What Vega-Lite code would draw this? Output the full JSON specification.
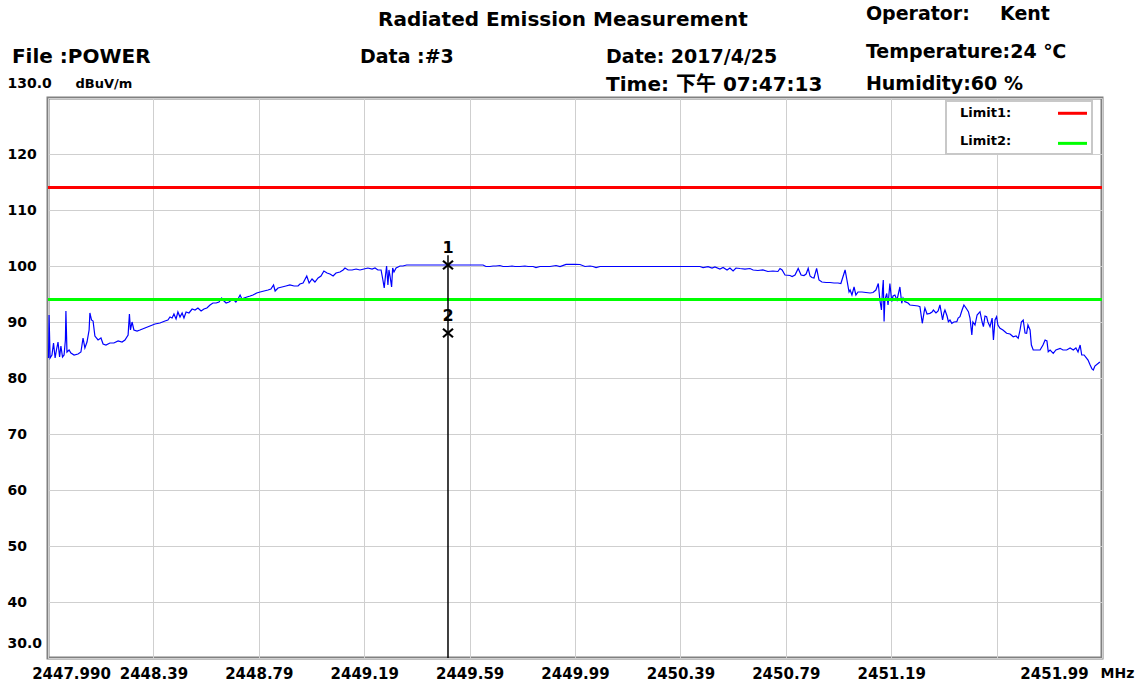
{
"$schema": "https://vega.github.io/schema/vega-lite/v6.json",
"width": 1054, "height": 560,
"autosize": {"type": "none"},
"padding": {"left": 48, "top": 98, "right": 40, "bottom": 28},
"background": "white",
"config": {
  "view": {"stroke": "#808080", "strokeWidth": 3},
  "axis": {"labelFont": "DejaVu Sans", "labelFontWeight": "bold", "labelColor": "#000", "domain": false, "ticks": false, "tickSize": 0, "gridColor": "#cfcfcf", "gridWidth": 1, "titleColor": "#000"},
  "text": {"font": "DejaVu Sans", "fontWeight": "bold", "color": "#000"}
},
"datasets": {
  "trace": [
{"freq":2447.992,"level":83.57},{"freq":2447.994,"level":91.25},{"freq":2447.998,"level":83.57},{"freq":2448.005,"level":84.11},{"freq":2448.011,"level":86.25},{"freq":2448.017,"level":83.57},{"freq":2448.022,"level":85.0},{"freq":2448.028,"level":86.43},{"freq":2448.034,"level":83.75},{"freq":2448.039,"level":85.71},{"freq":2448.045,"level":83.75},{"freq":2448.051,"level":84.11},{"freq":2448.056,"level":86.79},{"freq":2448.058,"level":91.96},{"freq":2448.062,"level":84.64},{"freq":2448.070,"level":85.0},{"freq":2448.077,"level":84.46},{"freq":2448.089,"level":84.11},{"freq":2448.104,"level":84.29},{"freq":2448.115,"level":84.64},{"freq":2448.123,"level":87.14},{"freq":2448.130,"level":85.36},{"freq":2448.138,"level":86.43},{"freq":2448.146,"level":88.57},{"freq":2448.149,"level":91.61},{"freq":2448.155,"level":90.36},{"freq":2448.161,"level":90.18},{"freq":2448.168,"level":87.5},{"freq":2448.180,"level":86.79},{"freq":2448.191,"level":87.14},{"freq":2448.199,"level":86.07},{"freq":2448.210,"level":85.89},{"freq":2448.225,"level":86.25},{"freq":2448.240,"level":86.25},{"freq":2448.256,"level":86.61},{"freq":2448.271,"level":86.43},{"freq":2448.282,"level":86.79},{"freq":2448.294,"level":87.68},{"freq":2448.299,"level":91.43},{"freq":2448.303,"level":88.57},{"freq":2448.309,"level":90.0},{"freq":2448.316,"level":88.57},{"freq":2448.328,"level":88.39},{"freq":2448.339,"level":88.57},{"freq":2448.358,"level":88.93},{"freq":2448.377,"level":89.29},{"freq":2448.396,"level":89.64},{"freq":2448.415,"level":89.82},{"freq":2448.434,"level":90.18},{"freq":2448.445,"level":90.36},{"freq":2448.453,"level":90.89},{"freq":2448.461,"level":90.71},{"freq":2448.468,"level":91.43},{"freq":2448.476,"level":90.54},{"freq":2448.483,"level":91.79},{"freq":2448.491,"level":90.89},{"freq":2448.499,"level":91.61},{"freq":2448.506,"level":90.71},{"freq":2448.514,"level":91.79},{"freq":2448.525,"level":91.61},{"freq":2448.537,"level":92.32},{"freq":2448.548,"level":92.14},{"freq":2448.559,"level":92.5},{"freq":2448.571,"level":91.96},{"freq":2448.582,"level":92.32},{"freq":2448.593,"level":92.5},{"freq":2448.605,"level":93.04},{"freq":2448.616,"level":93.39},{"freq":2448.628,"level":93.39},{"freq":2448.639,"level":93.57},{"freq":2448.649,"level":94.29},{"freq":2448.658,"level":93.75},{"freq":2448.666,"level":93.39},{"freq":2448.677,"level":93.57},{"freq":2448.692,"level":94.11},{"freq":2448.703,"level":93.57},{"freq":2448.711,"level":94.11},{"freq":2448.719,"level":94.82},{"freq":2448.726,"level":94.11},{"freq":2448.734,"level":94.29},{"freq":2448.745,"level":94.46},{"freq":2448.757,"level":94.64},{"freq":2448.768,"level":94.82},{"freq":2448.782,"level":95.18},{"freq":2448.795,"level":95.36},{"freq":2448.810,"level":95.54},{"freq":2448.825,"level":95.71},{"freq":2448.836,"level":95.89},{"freq":2448.846,"level":96.61},{"freq":2448.852,"level":95.54},{"freq":2448.863,"level":96.07},{"freq":2448.878,"level":96.25},{"freq":2448.893,"level":96.43},{"freq":2448.908,"level":96.61},{"freq":2448.924,"level":96.43},{"freq":2448.939,"level":96.43},{"freq":2448.946,"level":96.79},{"freq":2448.958,"level":96.96},{"freq":2448.972,"level":98.21},{"freq":2448.981,"level":96.96},{"freq":2448.992,"level":97.68},{"freq":2449.003,"level":97.14},{"freq":2449.015,"level":97.86},{"freq":2449.026,"level":98.21},{"freq":2449.037,"level":99.11},{"freq":2449.049,"level":98.75},{"freq":2449.060,"level":98.57},{"freq":2449.072,"level":98.21},{"freq":2449.083,"level":98.75},{"freq":2449.098,"level":98.93},{"freq":2449.110,"level":99.29},{"freq":2449.117,"level":99.64},{"freq":2449.129,"level":99.29},{"freq":2449.144,"level":99.29},{"freq":2449.159,"level":99.46},{"freq":2449.174,"level":99.29},{"freq":2449.189,"level":99.46},{"freq":2449.204,"level":99.64},{"freq":2449.220,"level":99.46},{"freq":2449.231,"level":99.64},{"freq":2449.242,"level":99.29},{"freq":2449.254,"level":99.29},{"freq":2449.261,"level":97.5},{"freq":2449.266,"level":96.07},{"freq":2449.271,"level":98.39},{"freq":2449.275,"level":100.0},{"freq":2449.280,"level":96.61},{"freq":2449.284,"level":99.29},{"freq":2449.288,"level":98.21},{"freq":2449.294,"level":96.25},{"freq":2449.298,"level":99.64},{"freq":2449.303,"level":98.93},{"freq":2449.311,"level":99.64},{"freq":2449.326,"level":100.0},{"freq":2449.337,"level":100.0},{"freq":2449.351,"level":100.18},{"freq":2449.383,"level":100.18},{"freq":2449.421,"level":100.18},{"freq":2449.459,"level":100.18},{"freq":2449.497,"level":100.18},{"freq":2449.508,"level":100.18},{"freq":2449.516,"level":100.18},{"freq":2449.554,"level":100.18},{"freq":2449.592,"level":100.18},{"freq":2449.641,"level":100.18},{"freq":2449.652,"level":99.91},{"freq":2449.667,"level":99.91},{"freq":2449.679,"level":100.0},{"freq":2449.690,"level":100.0},{"freq":2449.705,"level":100.09},{"freq":2449.717,"level":99.91},{"freq":2449.736,"level":99.91},{"freq":2449.751,"level":100.0},{"freq":2449.762,"level":99.91},{"freq":2449.781,"level":99.91},{"freq":2449.800,"level":100.0},{"freq":2449.812,"level":99.91},{"freq":2449.831,"level":99.91},{"freq":2449.842,"level":99.73},{"freq":2449.857,"level":99.91},{"freq":2449.895,"level":99.91},{"freq":2449.918,"level":100.09},{"freq":2449.933,"level":99.91},{"freq":2449.956,"level":100.30},{"freq":2449.990,"level":100.30},{"freq":2450.009,"level":100.27},{"freq":2450.028,"level":99.91},{"freq":2450.047,"level":100.0},{"freq":2450.058,"level":99.91},{"freq":2450.070,"level":99.73},{"freq":2450.085,"level":99.91},{"freq":2450.161,"level":99.91},{"freq":2450.237,"level":99.91},{"freq":2450.313,"level":99.91},{"freq":2450.389,"level":99.91},{"freq":2450.464,"level":99.91},{"freq":2450.476,"level":99.73},{"freq":2450.495,"level":99.88},{"freq":2450.510,"level":99.64},{"freq":2450.521,"level":99.82},{"freq":2450.540,"level":99.46},{"freq":2450.552,"level":99.73},{"freq":2450.567,"level":99.29},{"freq":2450.578,"level":99.64},{"freq":2450.590,"level":99.11},{"freq":2450.601,"level":99.64},{"freq":2450.616,"level":99.55},{"freq":2450.635,"level":99.46},{"freq":2450.654,"level":99.55},{"freq":2450.666,"level":99.29},{"freq":2450.684,"level":99.20},{"freq":2450.703,"level":99.29},{"freq":2450.722,"level":99.02},{"freq":2450.741,"level":99.11},{"freq":2450.760,"level":99.02},{"freq":2450.768,"level":99.55},{"freq":2450.776,"level":99.29},{"freq":2450.787,"level":98.39},{"freq":2450.806,"level":98.30},{"freq":2450.814,"level":98.13},{"freq":2450.825,"level":98.39},{"freq":2450.837,"level":99.55},{"freq":2450.848,"level":98.39},{"freq":2450.859,"level":98.30},{"freq":2450.867,"level":98.57},{"freq":2450.875,"level":99.59},{"freq":2450.882,"level":98.21},{"freq":2450.889,"level":97.95},{"freq":2450.897,"level":97.86},{"freq":2450.907,"level":99.59},{"freq":2450.916,"level":97.5},{"freq":2450.927,"level":97.14},{"freq":2450.943,"level":97.05},{"freq":2450.958,"level":97.05},{"freq":2450.973,"level":96.96},{"freq":2450.988,"level":96.96},{"freq":2450.999,"level":96.87},{"freq":2451.015,"level":99.29},{"freq":2451.022,"level":97.5},{"freq":2451.030,"level":95.36},{"freq":2451.034,"level":95.71},{"freq":2451.041,"level":94.82},{"freq":2451.049,"level":96.25},{"freq":2451.056,"level":94.82},{"freq":2451.064,"level":95.36},{"freq":2451.079,"level":95.36},{"freq":2451.094,"level":95.27},{"freq":2451.110,"level":95.18},{"freq":2451.121,"level":95.27},{"freq":2451.132,"level":95.71},{"freq":2451.141,"level":96.87},{"freq":2451.147,"level":93.93},{"freq":2451.153,"level":92.14},{"freq":2451.157,"level":95.71},{"freq":2451.160,"level":97.5},{"freq":2451.163,"level":90.09},{"freq":2451.166,"level":93.93},{"freq":2451.173,"level":95.09},{"freq":2451.178,"level":93.04},{"freq":2451.185,"level":96.87},{"freq":2451.192,"level":93.66},{"freq":2451.197,"level":94.64},{"freq":2451.204,"level":94.82},{"freq":2451.212,"level":93.93},{"freq":2451.223,"level":96.25},{"freq":2451.230,"level":93.34},{"freq":2451.235,"level":94.29},{"freq":2451.242,"level":93.63},{"freq":2451.254,"level":93.39},{"freq":2451.261,"level":93.04},{"freq":2451.277,"level":92.95},{"freq":2451.292,"level":92.86},{"freq":2451.299,"level":92.73},{"freq":2451.308,"level":89.77},{"freq":2451.315,"level":91.79},{"freq":2451.318,"level":92.5},{"freq":2451.326,"level":91.43},{"freq":2451.337,"level":91.55},{"freq":2451.345,"level":91.79},{"freq":2451.350,"level":92.14},{"freq":2451.360,"level":91.61},{"freq":2451.368,"level":91.96},{"freq":2451.375,"level":93.04},{"freq":2451.385,"level":90.36},{"freq":2451.390,"level":91.61},{"freq":2451.394,"level":92.14},{"freq":2451.402,"level":91.07},{"freq":2451.407,"level":90.05},{"freq":2451.413,"level":90.36},{"freq":2451.420,"level":89.77},{"freq":2451.428,"level":90.0},{"freq":2451.439,"level":90.05},{"freq":2451.444,"level":90.71},{"freq":2451.451,"level":90.95},{"freq":2451.459,"level":92.14},{"freq":2451.466,"level":93.04},{"freq":2451.474,"level":92.5},{"freq":2451.483,"level":91.84},{"freq":2451.489,"level":90.71},{"freq":2451.496,"level":87.68},{"freq":2451.500,"level":90.0},{"freq":2451.508,"level":89.46},{"freq":2451.516,"level":91.25},{"freq":2451.527,"level":91.84},{"freq":2451.535,"level":90.0},{"freq":2451.540,"level":89.16},{"freq":2451.546,"level":91.07},{"freq":2451.552,"level":90.95},{"freq":2451.557,"level":90.0},{"freq":2451.565,"level":89.16},{"freq":2451.573,"level":90.71},{"freq":2451.578,"level":86.79},{"freq":2451.584,"level":90.36},{"freq":2451.590,"level":90.95},{"freq":2451.595,"level":89.46},{"freq":2451.603,"level":88.87},{"freq":2451.614,"level":88.57},{"freq":2451.628,"level":87.98},{"freq":2451.641,"level":87.86},{"freq":2451.653,"level":87.37},{"freq":2451.664,"level":87.5},{"freq":2451.672,"level":87.09},{"freq":2451.679,"level":88.57},{"freq":2451.684,"level":90.0},{"freq":2451.691,"level":90.36},{"freq":2451.698,"level":88.04},{"freq":2451.704,"level":87.98},{"freq":2451.709,"level":89.46},{"freq":2451.717,"level":88.57},{"freq":2451.722,"level":85.89},{"freq":2451.729,"level":85.0},{"freq":2451.740,"level":85.0},{"freq":2451.755,"level":85.0},{"freq":2451.766,"level":85.89},{"freq":2451.774,"level":86.79},{"freq":2451.781,"level":86.61},{"freq":2451.786,"level":84.70},{"freq":2451.793,"level":85.0},{"freq":2451.805,"level":84.41},{"freq":2451.815,"level":85.0},{"freq":2451.831,"level":85.30},{"freq":2451.842,"level":85.0},{"freq":2451.856,"level":85.0},{"freq":2451.869,"level":85.36},{"freq":2451.881,"level":85.0},{"freq":2451.891,"level":85.36},{"freq":2451.899,"level":84.64},{"freq":2451.907,"level":85.89},{"freq":2451.913,"level":84.11},{"freq":2451.922,"level":84.11},{"freq":2451.932,"level":83.52},{"freq":2451.937,"level":83.21},{"freq":2451.945,"level":82.32},{"freq":2451.952,"level":81.61},{"freq":2451.957,"level":81.43},{"freq":2451.963,"level":82.14},{"freq":2451.976,"level":82.62},{"freq":2451.982,"level":82.86}
  ],
  "markers": [{"marker": "1", "freq": 2449.508, "level": 100.18}, {"marker": "2", "freq": 2449.508, "level": 88.04}],
  "limits": [{"limit": "Limit1", "level": 114}, {"limit": "Limit2", "level": 94}]
},
"layer": [
  {
    "data": {"name": "trace"},
    "mark": {"type": "line", "color": "#0000ff", "strokeWidth": 1.2, "interpolate": "linear"},
    "encoding": {
      "x": {"field": "freq", "type": "quantitative", "scale": {"domain": [2447.99, 2451.99], "nice": false, "zero": false},
        "axis": {"values": [2447.99, 2448.39, 2448.79, 2449.19, 2449.59, 2449.99, 2450.39, 2450.79, 2451.19, 2451.59, 2451.99],
          "labelExpr": "datum.value < 2448 ? '2447.990' : (abs(datum.value - 2451.59) < 0.001 ? '' : format(datum.value, '.2f'))",
          "labelFlush": false, "labelOverlap": false, "labelPadding": 8, "labelFontSize": 15, "labelBaseline": "top",
          "labelOffset": {"condition": [{"test": "datum.value < 2448", "value": 23}, {"test": "datum.value > 2451.9", "value": -48}], "value": 0},
          "title": "MHz", "titleX": 1052, "titleY": 15, "titleAlign": "left", "titleBaseline": "middle", "titleFontSize": 14, "titleFont": "DejaVu Sans", "titleFontWeight": "bold",
          "grid": true}},
      "y": {"field": "level", "type": "quantitative", "scale": {"domain": [30, 130], "nice": false, "zero": false},
        "axis": {"values": [30, 40, 50, 60, 70, 80, 90, 100, 110, 120, 130],
          "labelExpr": "datum.value == 30 ? '30.0' : (datum.value == 130 ? '130.0' : format(datum.value, 'd'))",
          "labelAlign": "left", "labelBaseline": "middle", "labelPadding": 41, "labelFontSize": 14, "labelOverlap": false,
          "labelOffset": {"condition": {"test": "datum.value == 30 || datum.value == 130", "value": -15}, "value": 0},
          "title": "dBuV/m", "titleAngle": 0, "titleX": 27, "titleY": -15, "titleAlign": "left", "titleBaseline": "middle", "titleFontSize": 13, "titleFont": "DejaVu Sans", "titleFontWeight": "bold",
          "grid": true}}
    }
  },
  {
    "data": {"name": "limits"},
    "mark": {"type": "rule", "strokeWidth": 3},
    "encoding": {
      "y": {"field": "level", "type": "quantitative"},
      "color": {"field": "limit", "type": "nominal", "scale": {"domain": ["Limit1", "Limit2"], "range": ["#ff0000", "#00ff00"]}, "legend": null}
    }
  },
  {
    "data": {"values": [{}]},
    "mark": {"type": "rule", "color": "#000000", "strokeWidth": 1.5},
    "encoding": {"x": {"datum": 2449.508, "type": "quantitative"}, "y": {"datum": 101.9, "type": "quantitative"}, "y2": {"datum": 30}}
  },
  {
    "data": {"name": "markers"},
    "mark": {"type": "point", "shape": "M-1,-0.85L1,0.85M-1,0.85L1,-0.85", "size": 100, "filled": false, "color": "#000000", "strokeWidth": 2.2, "opacity": 1},
    "encoding": {"x": {"field": "freq", "type": "quantitative"}, "y": {"field": "level", "type": "quantitative"}}
  },
  {
    "data": {"name": "markers"},
    "mark": {"type": "text", "fontSize": 16, "dy": -17, "align": "center", "baseline": "middle"},
    "encoding": {"x": {"field": "freq", "type": "quantitative"}, "y": {"field": "level", "type": "quantitative"}, "text": {"field": "marker"}}
  },
  {
    "data": {"values": [{}]},
    "mark": {"type": "rect", "fill": "#ffffff", "stroke": "#c8c8c8", "strokeWidth": 2},
    "encoding": {"x": {"datum": 2451.398, "type": "quantitative"}, "x2": {"datum": 2451.952}, "y": {"datum": 129.46, "type": "quantitative"}, "y2": {"datum": 120.0}}
  },
  {
    "data": {"values": [{}]},
    "mark": {"type": "text", "text": "Limit1:", "fontSize": 13, "align": "left", "baseline": "middle"},
    "encoding": {"x": {"datum": 2451.451, "type": "quantitative"}, "y": {"datum": 127.4, "type": "quantitative"}}
  },
  {
    "data": {"values": [{}]},
    "mark": {"type": "text", "text": "Limit2:", "fontSize": 13, "align": "left", "baseline": "middle"},
    "encoding": {"x": {"datum": 2451.451, "type": "quantitative"}, "y": {"datum": 122.3, "type": "quantitative"}}
  },
  {
    "data": {"values": [{}]},
    "mark": {"type": "rule", "color": "#ff0000", "strokeWidth": 3},
    "encoding": {"x": {"datum": 2451.823, "type": "quantitative"}, "x2": {"datum": 2451.933}, "y": {"datum": 127.27, "type": "quantitative"}}
  },
  {
    "data": {"values": [{}]},
    "mark": {"type": "rule", "color": "#00ff00", "strokeWidth": 3},
    "encoding": {"x": {"datum": 2451.823, "type": "quantitative"}, "x2": {"datum": 2451.933}, "y": {"datum": 121.9, "type": "quantitative"}}
  },
  {
    "data": {"values": [{}]},
    "mark": {"type": "text", "text": "Radiated Emission Measurement", "fontSize": 20, "align": "center", "baseline": "middle"},
    "encoding": {"x": {"datum": 2449.944, "type": "quantitative"}, "y": {"datum": 143.9, "type": "quantitative"}}
  },
  {
    "data": {"values": [{}]},
    "mark": {"type": "text", "text": "File :POWER", "fontSize": 20, "align": "left", "baseline": "middle"},
    "encoding": {"x": {"datum": 2447.853, "type": "quantitative"}, "y": {"datum": 137.32, "type": "quantitative"}}
  },
  {
    "data": {"values": [{}]},
    "mark": {"type": "text", "text": "Data :#3", "fontSize": 19, "align": "left", "baseline": "middle"},
    "encoding": {"x": {"datum": 2449.174, "type": "quantitative"}, "y": {"datum": 137.32, "type": "quantitative"}}
  },
  {
    "data": {"values": [{}]},
    "mark": {"type": "text", "text": "Date: 2017/4/25", "fontSize": 19, "align": "left", "baseline": "middle"},
    "encoding": {"x": {"datum": 2450.108, "type": "quantitative"}, "y": {"datum": 137.32, "type": "quantitative"}}
  },
  {
    "data": {"values": [{}]},
    "mark": {"type": "text", "text": "Time: 下午 07:47:13", "fontSize": 20, "align": "left", "baseline": "middle", "font": "DejaVu Sans, Noto Sans CJK TC"},
    "encoding": {"x": {"datum": 2450.108, "type": "quantitative"}, "y": {"datum": 132.32, "type": "quantitative"}}
  },
  {
    "data": {"values": [{}]},
    "mark": {"type": "text", "text": "Operator:", "fontSize": 19, "align": "left", "baseline": "middle"},
    "encoding": {"x": {"datum": 2451.094, "type": "quantitative"}, "y": {"datum": 145.0, "type": "quantitative"}}
  },
  {
    "data": {"values": [{}]},
    "mark": {"type": "text", "text": "Kent", "fontSize": 19, "align": "left", "baseline": "middle"},
    "encoding": {"x": {"datum": 2451.603, "type": "quantitative"}, "y": {"datum": 145.0, "type": "quantitative"}}
  },
  {
    "data": {"values": [{}]},
    "mark": {"type": "text", "text": "Temperature:24 ℃", "fontSize": 19, "align": "left", "baseline": "middle"},
    "encoding": {"x": {"datum": 2451.094, "type": "quantitative"}, "y": {"datum": 138.21, "type": "quantitative"}}
  },
  {
    "data": {"values": [{}]},
    "mark": {"type": "text", "text": "Humidity:60 %", "fontSize": 19, "align": "left", "baseline": "middle"},
    "encoding": {"x": {"datum": 2451.094, "type": "quantitative"}, "y": {"datum": 132.5, "type": "quantitative"}}
  }
]
}
